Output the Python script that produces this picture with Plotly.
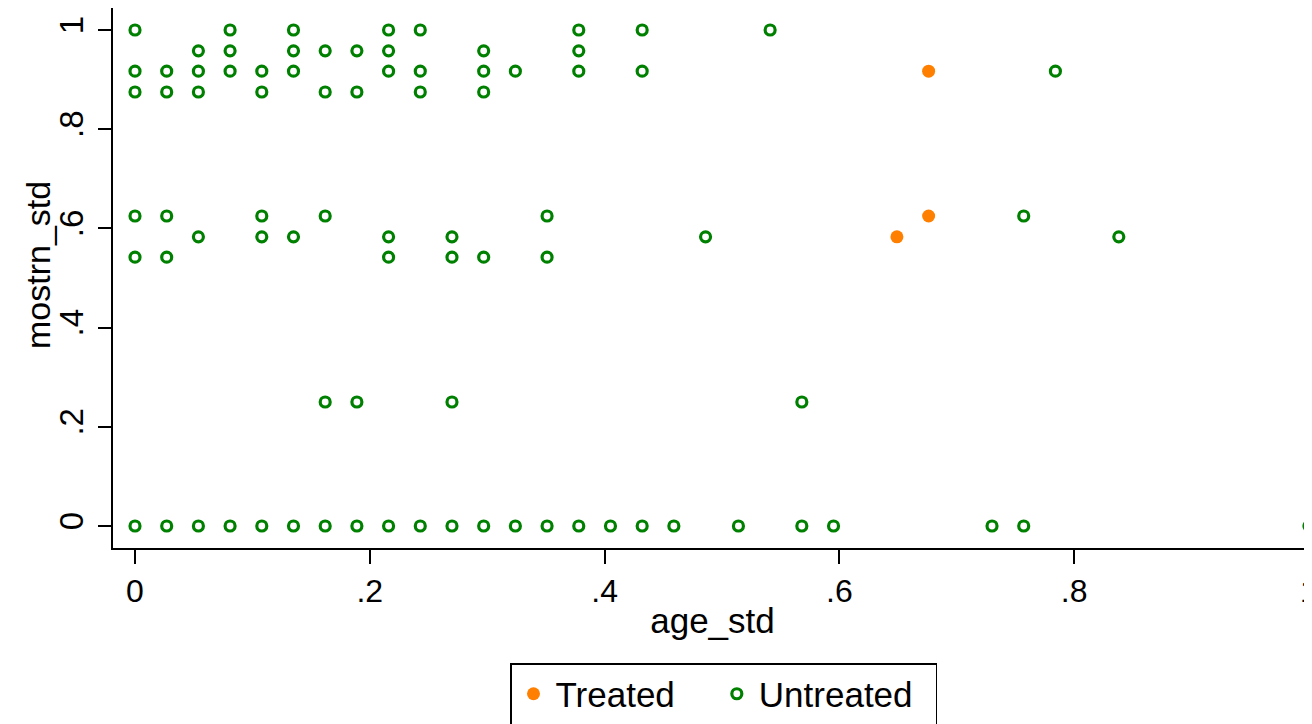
import plotly.graph_objects as go

# ---- data ----
# Untreated: age_std values for each mostrn_std level
mostrn_levels = [1.0, 0.958, 0.917, 0.875, 0.625, 0.583, 0.542, 0.25, 0.0]
untr_age_1000 = [0, .081, .135, .216, .243, .378, .432, .541]
untr_age_0958 = [.054, .081, .135, .162, .189, .216, .297, .378]
untr_age_0917 = [0, .027, .054, .081, .108, .135, .216, .243, .297, .324, .378, .432, .784]
untr_age_0875 = [0, .027, .054, .108, .162, .189, .243, .297]
untr_age_0625 = [0, .027, .108, .162, .351, .757]
untr_age_0583 = [.054, .108, .135, .216, .270, .486, .838]
untr_age_0542 = [0, .027, .216, .270, .297, .351]
untr_age_0250 = [.162, .189, .270, .568]
untr_age_0000 = [0, .027, .054, .081, .108, .135, .162, .189, .216, .243, .270, .297,
                 .324, .351, .378, .405, .432, .459, .514, .568, .595, .730, .757, 1.0]

treated_age = [.676, .676, .649]
treated_mostrn = [.917, .625, .583]

tick_vals = [0, .2, .4, .6, .8, 1]
tick_text = ["0", ".2", ".4", ".6", ".8", "1"]

# build untreated table
untr_rows = [untr_age_1000, untr_age_0958, untr_age_0917, untr_age_0875, untr_age_0625,
             untr_age_0583, untr_age_0542, untr_age_0250, untr_age_0000]
untr_x, untr_y = [], []
for lvl, ages in zip(mostrn_levels, untr_rows):
    untr_x += ages
    untr_y += [lvl] * len(ages)

FONT = "Liberation Sans, Arial, Helvetica, sans-serif"
GREEN = "rgb(0,128,0)"
ORANGE = "rgb(255,128,0)"

W, H = 1304, 716          # page has an 8px body margin
L, R, T, B = 105, 0, 0, 176
PW, PH = W - L - R, H - T - B

fig = go.Figure()
fig.add_trace(go.Scatter(
    x=treated_age, y=treated_mostrn, mode="markers", name="Treated\u2002\u2002",
    marker=dict(symbol="circle", size=13, color=ORANGE, line=dict(width=0)),
    cliponaxis=False,
))
fig.add_trace(go.Scatter(
    x=untr_x, y=untr_y, mode="markers", name="Untreated\u2002",
    marker=dict(symbol="circle-open", size=10, color=GREEN, line=dict(width=3.2, color=GREEN)),
    cliponaxis=False,
))

fig.update_layout(
    width=W, height=H,
    margin=dict(l=L, r=R, t=T, b=B, autoexpand=False),
    paper_bgcolor="white", plot_bgcolor="white",
    font=dict(family=FONT, color="black", size=32),
    showlegend=True,
    legend=dict(
        orientation="h", x=(502 - L) / PW, xanchor="left", y=-(655 - PH) / PH, yanchor="top",
        bordercolor="black", borderwidth=1.5, bgcolor="white",
        font=dict(size=35, family=FONT), itemsizing="trace", itemwidth=34,
        tracegroupgap=0,
    ),
    xaxis=dict(
        range=[-0.01874, 1.00256], showgrid=False, zeroline=False, automargin=False,
        showline=True, linecolor="black", linewidth=1.5,
        ticks="outside", ticklen=14, tickwidth=1.5, tickcolor="black",
        tickvals=tick_vals, ticktext=tick_text, tickfont=dict(size=32),
        ticklabelstandoff=0, ticklabeloverflow="allow",
        title=dict(text="age_std", font=dict(size=35), standoff=0),
    ),
    yaxis=dict(
        range=[-0.04435, 1.04435], showgrid=False, zeroline=False, automargin=False,
        showline=True, linecolor="black", linewidth=1.5,
        ticks="outside", ticklen=13, tickwidth=1.5, tickcolor="black",
        tickvals=tick_vals, ticktext=tick_text, tickangle=-90,
        tickfont=dict(size=33), ticklabelstandoff=2, ticklabeloverflow="allow",
    ),
    annotations=[dict(
        text="mostrn_std", textangle=-90, showarrow=False,
        xref="paper", yref="paper", x=(30 - L) / PW, y=(PH - 257) / PH,
        xanchor="center", yanchor="middle", font=dict(size=34, family=FONT),
    )],
)

fig.write_html("out.html")
